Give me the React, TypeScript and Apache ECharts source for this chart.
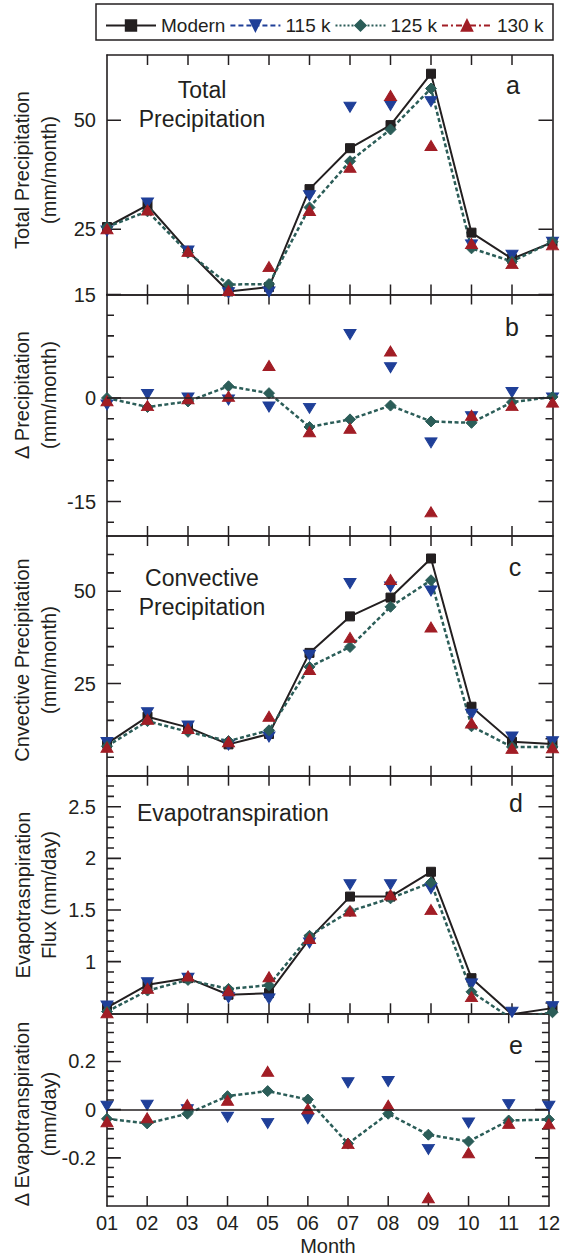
import React, { useEffect, useRef } from 'react';
import * as echarts from 'echarts';

const months = ['01', '02', '03', '04', '05', '06', '07', '08', '09', '10', '11', '12'];
const seriesNames = ['Modern', '115 k', '125 k', '130 k'];

// Panel a: total precipitation (mm/month)
const totalModern = [25.5, 30.5, 20.0, 10.7, 11.7, 34.2, 43.6, 48.9, 60.7, 24.2, 18.2, 22.0];
const total115 = [24.6, 31.0, 20.0, 10.4, 10.6, 32.7, 53.0, 53.4, 54.3, 21.4, 19.0, 22.0];
const total125 = [25.5, 29.1, 19.6, 12.3, 12.4, 30.0, 40.6, 47.9, 57.3, 20.6, 17.6, 22.1];
const total130 = [25.1, 29.4, 19.9, 10.9, 16.4, 29.3, 39.2, 55.7, 44.2, 21.7, 17.1, 21.4];

// Panel b: delta precipitation (mm/month)
const dPrecip115 = [-1.0, 0.5, 0.0, -0.3, -1.3, -1.5, 9.2, 4.4, -6.5, -2.7, 0.8, 0.0];
const dPrecip125 = [0.0, -1.3, -0.5, 1.7, 0.7, -4.2, -3.1, -1.1, -3.4, -3.6, -0.6, 0.15];
const dPrecip130 = [-0.4, -1.1, -0.1, 0.25, 4.7, -4.9, -4.4, 6.8, -16.5, -2.5, -1.1, -0.6];

// Panel c: convective precipitation (mm/month)
const convModern = [8.7, 16.0, 13.1, 8.5, 11.3, 33.3, 43.2, 48.3, 58.9, 18.7, 9.2, 8.6];
const conv115 = [9.0, 17.1, 13.5, 8.3, 10.5, 32.7, 52.1, 51.2, 50.1, 16.7, 10.5, 9.2];
const conv125 = [8.0, 14.8, 11.9, 9.4, 12.3, 29.5, 34.9, 45.8, 53.0, 13.4, 7.8, 7.8];
const conv130 = [7.7, 15.3, 12.8, 9.2, 16.1, 28.8, 37.5, 53.2, 40.3, 14.3, 7.4, 7.6];

// Panel d: evapotranspiration flux (mm/day)
const etModern = [0.555, 0.776, 0.84, 0.68, 0.695, 1.22, 1.63, 1.63, 1.87, 0.84, 0.49, 0.55];
const et115 = [0.57, 0.795, 0.84, 0.65, 0.64, 1.18, 1.745, 1.745, 1.705, 0.785, 0.51, 0.565];
const et125 = [0.517, 0.72, 0.823, 0.736, 0.772, 1.25, 1.489, 1.613, 1.766, 0.708, 0.445, 0.51];
const et130 = [0.505, 0.742, 0.861, 0.719, 0.854, 1.224, 1.489, 1.648, 1.504, 0.661, 0.433, 0.49];

// Panel e: delta evapotranspiration (mm/day)
const dEt115 = [0.014, 0.018, 0.0, -0.031, -0.057, -0.038, 0.112, 0.117, -0.165, -0.055, 0.021, 0.014];
const dEt125 = [-0.038, -0.057, -0.017, 0.056, 0.077, 0.042, -0.141, -0.017, -0.104, -0.132, -0.045, -0.041];
const dEt130 = [-0.05, -0.034, 0.021, 0.039, 0.159, 0.004, -0.141, 0.018, -0.366, -0.179, -0.057, -0.059];

// Axis ticks (labelled / major, and minor)
const ticksA = [25, 50];
const minorA: number[] = [];
const ticksB = [-15, 0, 15];
const minorB = [-18, -12, -9, -6, -3, 3, 6, 9, 12];
const ticksC = [25, 50];
const minorC = [5, 10, 15, 20, 30, 35, 40, 45, 55, 60];
const ticksD = [1, 1.5, 2, 2.5];
const minorD = [0.6, 0.7, 0.8, 0.9, 1.1, 1.2, 1.3, 1.4, 1.6, 1.7, 1.8, 1.9, 2.1, 2.2, 2.3, 2.4, 2.6, 2.7];
const ticksE = [-0.2, 0, 0.2];
const minorE = [-0.36, -0.32, -0.28, -0.24, -0.16, -0.12, -0.08, -0.04, 0.04, 0.08, 0.12, 0.16, 0.24, 0.28, 0.32, 0.36];

const FONT = "'Liberation Sans', Arial, Helvetica, sans-serif";
const INK = '#231f20';
const COLORS: Record<string, string> = {
  Modern: '#231f20',
  '115 k': '#1f3f98',
  '125 k': '#2b5d58',
  '130 k': '#a11d25',
};

const SERIES_STYLE: Record<string, any> = {
  Modern: { symbol: 'rect', symbolSize: 9, symbolRotate: 0, line: { width: 2, type: 'solid', opacity: 1 }, legendType: 'solid' },
  '115 k': { symbol: 'triangle', symbolSize: [12, 10], symbolRotate: 180, line: { width: 2, type: 'dashed', opacity: 0 }, legendType: [5, 3] },
  '125 k': { symbol: 'diamond', symbolSize: [11, 11], symbolRotate: 0, line: { width: 2.5, type: [4, 2.5], opacity: 1 }, legendType: [2, 2] },
  '130 k': { symbol: 'triangle', symbolSize: [12, 10], symbolRotate: 0, line: { width: 2, type: [6, 3, 2, 3], opacity: 0 }, legendType: [6, 3, 2, 3] },
};

type Panel = {
  top: number;
  height: number;
  min: number;
  max: number;
  ticks: number[];
  minor: number[];
  data: [string, number[]][];
  zero: boolean;
};

const panels: Panel[] = [
  { top: 55, height: 239.5, min: 10, max: 65, ticks: ticksA, minor: minorA, zero: false,
    data: [['Modern', totalModern], ['115 k', total115], ['125 k', total125], ['130 k', total130]] },
  { top: 294.5, height: 241.5, min: -20, max: 15, ticks: ticksB, minor: minorB, zero: true,
    data: [['115 k', dPrecip115], ['125 k', dPrecip125], ['130 k', dPrecip130]] },
  { top: 536, height: 239.7, min: 0, max: 65, ticks: ticksC, minor: minorC, zero: false,
    data: [['Modern', convModern], ['115 k', conv115], ['125 k', conv125], ['130 k', conv130]] },
  { top: 775.7, height: 237.6, min: 0.5, max: 2.8, ticks: ticksD, minor: minorD, zero: false,
    data: [['Modern', etModern], ['115 k', et115], ['125 k', et125], ['130 k', et130]] },
  { top: 1013.3, height: 192.7, min: -0.4, max: 0.4, ticks: ticksE, minor: minorE, zero: true,
    data: [['115 k', dEt115], ['125 k', dEt125], ['130 k', dEt130]] },
];

const GRID_LEFT = 107;
const GRID_WIDTH = 445.5;
const AXIS_LINE = { color: INK, width: 1.6 };
const MAJOR_LEN = 14;
const MINOR_LEN = 7;
const X_TICK_LEN = 10;
const TICK_W = 1.5;

function baseGraphic(): any[] {
  const yName = (lines: [string, string], cx1: number, cx2: number, cy: number) =>
    lines.map((t, k) => ({
      type: 'text',
      x: k === 0 ? cx1 : cx2,
      y: cy,
      rotation: Math.PI / 2,
      style: { text: t, fill: INK, font: `20px ${FONT}`, textAlign: 'center', textVerticalAlign: 'middle' },
    }));

  const letter = (t: string, x: number, y: number) => ({
    type: 'text',
    x,
    y,
    style: { text: t, fill: INK, font: `25px ${FONT}`, textAlign: 'center', textVerticalAlign: 'middle' },
  });

  return [
    {
      type: 'rect',
      shape: { x: 96, y: 4, width: 457, height: 36 },
      style: { fill: 'none', stroke: INK, lineWidth: 1.5 },
    },
    ...yName(['Total Precipitation', '(mm/month)'], 22, 49, 170),
    ...yName(['Δ Precipitation', '(mm/month)'], 22, 49, 395),
    ...yName(['Cnvective Precipitation', '(mm/month)'], 22, 49, 660),
    ...yName(['Evapotrasnpiration', 'Flux (mm/day)'], 23, 49, 895),
    ...yName(['Δ Evapotranspiration', '(mm/day)'], 22, 49, 1114),
    {
      type: 'text',
      x: 202,
      y: 104,
      style: { text: 'Total\nPrecipitation', fill: INK, font: `23px ${FONT}`, textAlign: 'center', textVerticalAlign: 'middle', lineHeight: 29 },
    },
    {
      type: 'text',
      x: 202,
      y: 592,
      style: { text: 'Convective\nPrecipitation', fill: INK, font: `23px ${FONT}`, textAlign: 'center', textVerticalAlign: 'middle', lineHeight: 29 },
    },
    {
      type: 'text',
      x: 137,
      y: 813,
      style: { text: 'Evapotranspiration', fill: INK, font: `23px ${FONT}`, textAlign: 'left', textVerticalAlign: 'middle' },
    },
    letter('a', 513, 85),
    letter('b', 512, 327),
    letter('c', 515, 567),
    letter('d', 516, 803),
    letter('e', 516, 1045),
  ];
}

// Custom series drawing the inward month ticks at the top and bottom of a panel.
function makeXTickRenderer(p: Panel) {
  return (params: any, api: any) => {
    const m = params.dataIndex + 1;
    const bottom = api.coord([m, p.min]);
    const top = api.coord([m, p.max]);
    return {
      type: 'group',
      children: [
        { type: 'rect', shape: { x: bottom[0] - TICK_W / 2, y: bottom[1] - X_TICK_LEN, width: TICK_W, height: X_TICK_LEN }, style: { fill: INK } },
        { type: 'rect', shape: { x: top[0] - TICK_W / 2, y: top[1], width: TICK_W, height: X_TICK_LEN }, style: { fill: INK } },
      ],
    };
  };
}

function buildOption() {
  const grid: any[] = [];
  const xAxis: any[] = [];
  const yAxis: any[] = [];
  const series: any[] = [];
  const n = panels.length;

  panels.forEach((p, i) => {
    grid.push({ left: GRID_LEFT, top: p.top, width: GRID_WIDTH, height: p.height, show: false });
    const isLast = i === n - 1;
    ['bottom', 'top'].forEach((pos) => {
      const showLabel = isLast && pos === 'bottom';
      xAxis.push({
        gridIndex: i,
        type: 'category',
        data: months,
        boundaryGap: false,
        position: pos,
        axisLine: { show: true, onZero: false, lineStyle: AXIS_LINE },
        axisTick: { show: false },
        axisLabel: { show: showLabel, interval: 0, margin: 7, fontSize: 20, color: INK, fontFamily: FONT },
        splitLine: { show: false },
        name: showLabel ? 'Month' : '',
        nameLocation: 'middle',
        nameGap: 30,
        nameTextStyle: { fontSize: 20, color: INK, fontFamily: FONT },
      });
    });
    const baseY = {
      gridIndex: i,
      type: 'value',
      min: p.min,
      max: p.max,
      splitLine: { show: false },
      axisTick: { show: false },
    };
    yAxis.push({
      ...baseY,
      position: 'left',
      axisLine: { show: true, onZero: false, lineStyle: AXIS_LINE },
      axisLabel: { show: true, customValues: p.ticks, margin: 11, fontSize: 20, color: INK, fontFamily: FONT },
    });
    yAxis.push({
      ...baseY,
      position: 'right',
      axisLine: { show: true, onZero: false, lineStyle: AXIS_LINE },
      axisLabel: { show: false },
    });

    // month ticks (top and bottom)
    series.push({
      type: 'custom',
      xAxisIndex: 2 * i,
      yAxisIndex: 2 * i,
      silent: true,
      clip: false,
      z: 1,
      encode: { x: 0, y: 1 },
      data: months.slice(1, -1).map((m) => [m, p.min]),
      renderItem: makeXTickRenderer(p),
    });

    p.data.forEach(([name, values]) => {
      const st = SERIES_STYLE[name];
      const color = COLORS[name];
      const s: any = {
        name,
        type: 'line',
        xAxisIndex: 2 * i,
        yAxisIndex: 2 * i,
        data: values,
        symbol: st.symbol,
        symbolSize: st.symbolSize,
        symbolRotate: st.symbolRotate,
        showSymbol: true,
        showAllSymbol: true,
        clip: true,
        z: 3,
        itemStyle: { color, borderColor: color, borderWidth: 1 },
        lineStyle: { color, width: st.line.width, type: st.line.type, opacity: st.line.opacity },
        emphasis: { disabled: true },
      };
      if (p.zero && name === '125 k') {
        s.markLine = {
          silent: true,
          symbol: 'none',
          label: { show: false },
          lineStyle: { color: INK, width: 1.6, type: 'solid' },
          data: [{ yAxis: 0 }],
        };
      }
      series.push(s);
    });
  });

  // Hidden pixel-unit x axes (one per panel) for the inward y ticks, drawn as line segments.
  panels.forEach((p, i) => {
    xAxis.push({ gridIndex: i, type: 'value', min: 0, max: GRID_WIDTH, show: false });
    const segs: any[] = [];
    const addTick = (v: number, len: number) => {
      segs.push([0, v], [len, v], ['-', '-']);
      segs.push([GRID_WIDTH - len, v], [GRID_WIDTH, v], ['-', '-']);
    };
    p.minor.forEach((v) => addTick(v, MINOR_LEN));
    p.ticks.forEach((v) => addTick(v, MAJOR_LEN));
    series.push({
      type: 'line',
      xAxisIndex: 2 * n + i,
      yAxisIndex: 2 * i,
      data: segs,
      symbol: 'none',
      showSymbol: false,
      connectNulls: false,
      silent: true,
      clip: false,
      z: 2,
      lineStyle: { color: INK, width: 1.6, type: 'solid', opacity: 1 },
      emphasis: { disabled: true },
    });
  });

  const legendData = seriesNames.map((name) => ({
    name,
    lineStyle: { color: COLORS[name], width: 2, type: SERIES_STYLE[name].legendType, opacity: 1 },
  }));

  return {
    animation: false,
    backgroundColor: '#ffffff',
    textStyle: { fontFamily: FONT },
    legend: {
      left: 100,
      top: 11,
      itemWidth: 50,
      itemHeight: 13,
      itemGap: 4,
      selectedMode: false,
      textStyle: { fontSize: 19, color: INK, fontFamily: FONT },
      data: legendData,
    },
    grid,
    xAxis,
    yAxis,
    series,
    graphic: baseGraphic(),
  };
}

export default function App() {
  const ref = useRef<HTMLDivElement>(null);
  useEffect(() => {
    document.body.style.margin = '0';
    const chart = echarts.init(ref.current as HTMLDivElement, null, { renderer: 'svg' });
    chart.setOption(buildOption() as any);
    return () => chart.dispose();
  }, []);
  return <div ref={ref} style={{ width: 563, height: 1258, overflow: 'hidden' }} />;
}
